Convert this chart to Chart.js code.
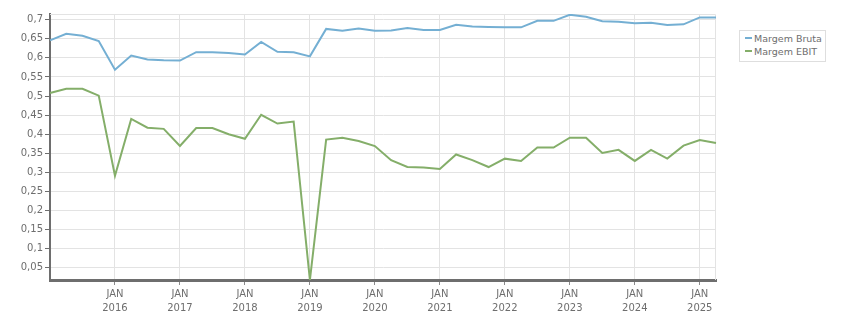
<!DOCTYPE html>
<html>
<head>
  <meta charset="utf-8">
  <title>Margens</title>
  <script src="https://cdn.jsdelivr.net/npm/chart.js"></script>
  <style>
    body { margin: 0; background: #fff; }
    #wrap { position: relative; width: 851px; height: 313px; }
    #legend {
      position: absolute;
      left: 739px;
      top: 30px;
      padding: 2px 3px 3px 0;
      border: 1px solid #dedede;
      background: #fff;
      font-family: "DejaVu Sans", sans-serif;
      font-size: 9.5px;
      color: #6e6e6e;
    }
    #legend div { height: 12.5px; line-height: 12.5px; white-space: nowrap; }
    #legend span.sym {
      display: inline-block;
      width: 7px;
      height: 2px;
      margin: 0 2px 3px 5px;
      vertical-align: middle;
    }
  </style>
</head>
<body>
  <div id="wrap">
    <canvas id="chartCanvas" width="851" height="313"></canvas>
    <div id="legend"></div>
  </div>

  <script>
    // quarterly periods (year-month)
    const quarters = [
      '2015-01', '2015-04', '2015-07', '2015-10',
      '2016-01', '2016-04', '2016-07', '2016-10',
      '2017-01', '2017-04', '2017-07', '2017-10',
      '2018-01', '2018-04', '2018-07', '2018-10',
      '2019-01', '2019-04', '2019-07', '2019-10',
      '2020-01', '2020-04', '2020-07', '2020-10',
      '2021-01', '2021-04', '2021-07', '2021-10',
      '2022-01', '2022-04', '2022-07', '2022-10',
      '2023-01', '2023-04', '2023-07', '2023-10',
      '2024-01', '2024-04', '2024-07', '2024-10',
      '2025-01', '2025-04'
    ];

    const margemBruta = [
      0.646, 0.663, 0.658, 0.644,
      0.569, 0.606, 0.596, 0.594,
      0.593, 0.615, 0.615, 0.613,
      0.609, 0.642, 0.616, 0.615,
      0.604, 0.676, 0.671, 0.677,
      0.671, 0.672, 0.678, 0.673,
      0.673, 0.687, 0.682, 0.681,
      0.680, 0.680, 0.697, 0.697,
      0.713, 0.708, 0.696, 0.695,
      0.691, 0.692, 0.686, 0.688,
      0.706, 0.706
    ];

    const margemEbit = [
      0.508, 0.519, 0.519, 0.501,
      0.291, 0.440, 0.417, 0.414,
      0.369, 0.416, 0.416, 0.400,
      0.388, 0.451, 0.428, 0.433,
      0.018, 0.386, 0.391, 0.382,
      0.369, 0.332, 0.314, 0.313,
      0.309, 0.347, 0.332, 0.314,
      0.336, 0.330, 0.365, 0.365,
      0.391, 0.391, 0.351, 0.359,
      0.330, 0.359, 0.336, 0.370,
      0.385, 0.377
    ];

    const seriesNames = ['Margem Bruta', 'Margem EBIT'];
    const seriesColors = ['#74afd3', '#84ae69'];
    const monthLabel = 'JAN';
    const firstLabelYear = 2016;

    function isYearStart(i) {
      const q = quarters[i];
      if (!q) return false;
      const [y, m] = q.split('-');
      return m === '01' && +y >= firstLabelYear;
    }

    // light frame on top and right of the plot
    const frame = {
      id: 'frame',
      beforeDatasetsDraw(chart) {
        const a = chart.chartArea;
        const c = chart.ctx;
        c.save();
        c.strokeStyle = '#e3e3e3';
        c.lineWidth = 1;
        c.beginPath();
        c.moveTo(a.left, a.top + 0.5);
        c.lineTo(a.right - 0.5, a.top + 0.5);
        c.lineTo(a.right - 0.5, a.bottom);
        c.stroke();
        c.restore();
      }
    };

    const font = { family: '"DejaVu Sans", sans-serif', size: 10 };

    new Chart(document.getElementById('chartCanvas'), {
      type: 'line',
      data: {
        labels: quarters,
        datasets: [
          { label: seriesNames[0], data: margemBruta, borderColor: seriesColors[0] },
          { label: seriesNames[1], data: margemEbit, borderColor: seriesColors[1] }
        ]
      },
      options: {
        responsive: false,
        animation: false,
        layout: { padding: { top: 14, right: 135, left: 0, bottom: 0 } },
        elements: {
          line: { borderWidth: 2, tension: 0 },
          point: { radius: 0 }
        },
        plugins: {
          legend: { display: false },
          tooltip: { enabled: false }
        },
        scales: {
          x: {
            offset: false,
            afterFit(s) { s.height = 33; },
            border: { color: '#6e6e6e', width: 3 },
            grid: {
              color: ctx => isYearStart(ctx.index) ? '#e3e3e3' : 'rgba(0,0,0,0)',
              tickColor: ctx => isYearStart(ctx.index) ? '#8a8a8a' : 'rgba(0,0,0,0)',
              tickLength: 5
            },
            ticks: {
              autoSkip: false,
              maxRotation: 0,
              padding: 3,
              color: '#6e6e6e',
              font: { ...font, lineHeight: 1.34 },
              callback(v, i) {
                return isYearStart(i) ? [monthLabel, quarters[i].slice(0, 4)] : '';
              }
            }
          },
          y: {
            min: 0.018,
            max: 0.715,
            afterFit(s) { s.width = 50; },
            border: { color: '#6e6e6e', width: 2 },
            grid: { color: '#e3e3e3', tickColor: '#6e6e6e', tickLength: 5 },
            ticks: {
              stepSize: 0.05,
              includeBounds: false,
              padding: 2,
              color: '#6e6e6e',
              font: font,
              callback: v => String(+v.toFixed(2)).replace('.', ',')
            }
          }
        }
      },
      plugins: [frame]
    });

    const legend = document.getElementById('legend');
    seriesNames.forEach((name, i) => {
      const row = document.createElement('div');
      const sym = document.createElement('span');
      sym.className = 'sym';
      sym.style.background = seriesColors[i];
      row.appendChild(sym);
      row.appendChild(document.createTextNode(name));
      legend.appendChild(row);
    });
  </script>
</body>
</html>
